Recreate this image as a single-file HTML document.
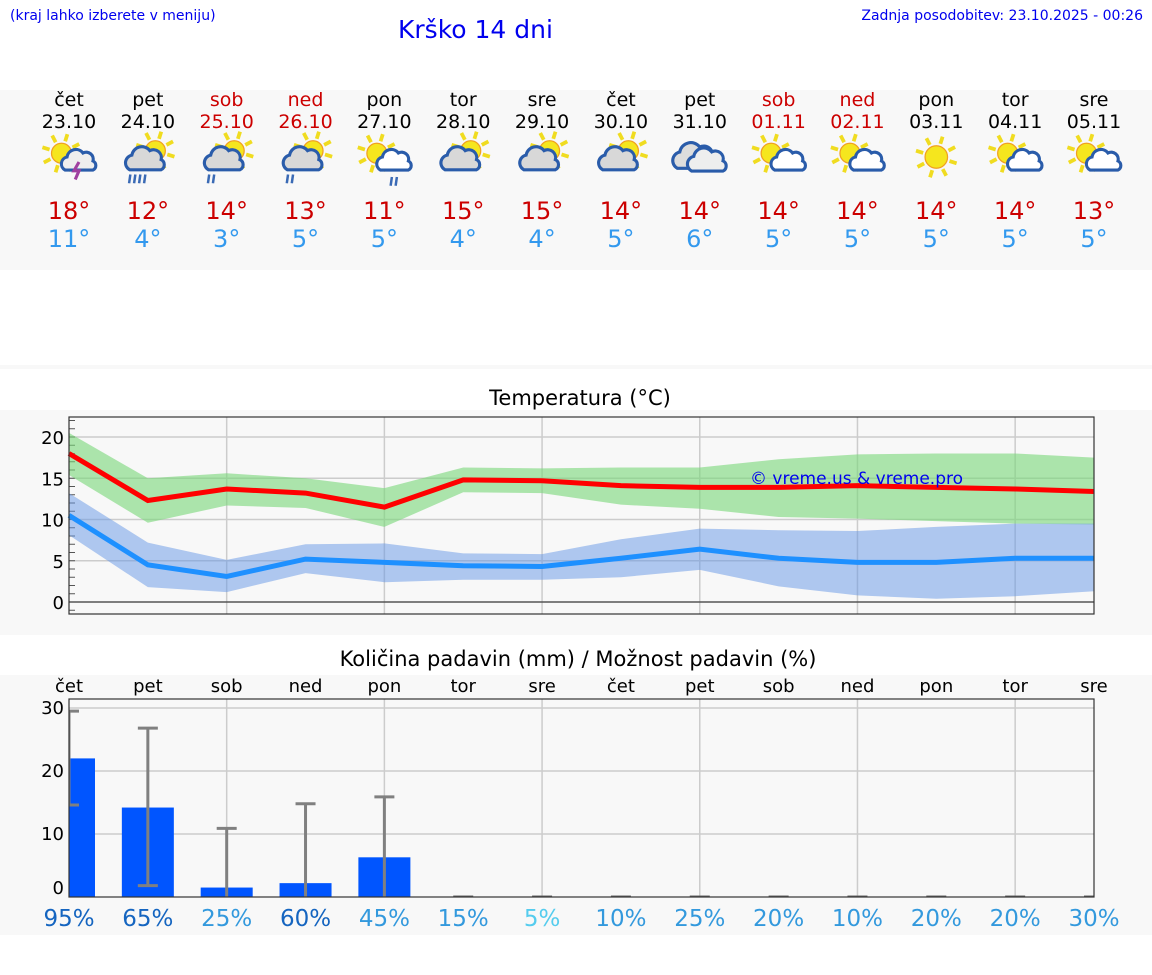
<!DOCTYPE html>
<html><head><meta charset="utf-8"><style>
body{margin:0;width:1152px;height:975px;background:#fff;font-family:"DejaVu Sans","Liberation Sans",sans-serif;position:relative;overflow:hidden}
.a{position:absolute}
</style></head><body>
<div class="a" style="left:10px;top:8px;font-size:14px;color:#0000ee">(kraj lahko izberete v meniju)</div>
<div class="a" style="left:398px;top:15px;font-size:25px;color:#0000ee">Krško 14 dni</div>
<div class="a" style="right:9px;top:8px;font-size:14px;color:#0000ee">Zadnja posodobitev: 23.10.2025 - 00:26</div>
<div class="a" style="left:0;top:90px;width:1152px;height:180px;background:#f8f8f8"></div>
<div class="a" style="left:0;top:365px;width:1152px;height:4px;background:#f8f8f8"></div>
<div class="a" style="left:0;top:410px;width:1152px;height:225px;background:#f8f8f8"></div>
<div class="a" style="left:0;top:675px;width:1152px;height:260px;background:#f8f8f8"></div>
<div class="a" style="left:0;width:1160px;top:386px;text-align:center;font-size:21px">Temperatura (°C)</div>
<div class="a" style="left:0;width:1156px;top:647px;text-align:center;font-size:21px">Količina padavin (mm) / Možnost padavin (%)</div>
<div id="days"></div>
<svg class="a" style="left:0;top:0" width="1152" height="975" id="svg"></svg>
<script>
const dayNames=["čet","pet","sob","ned","pon","tor","sre","čet","pet","sob","ned","pon","tor","sre"];
const dates=["23.10","24.10","25.10","26.10","27.10","28.10","29.10","30.10","31.10","01.11","02.11","03.11","04.11","05.11"];
const weekend=[0,0,1,1,0,0,0,0,0,1,1,0,0,0];
const icons=["storm","rain","rain2","rain2","rainc","pc","pc","pc","cloudy","ps","ps","sun","ps","ps"];
const tMax=[18,12,14,13,11,15,15,14,14,14,14,14,14,13];
const tMin=[11,4,3,5,5,4,4,5,6,5,5,5,5,5];
const maxLine=[18,12.3,13.7,13.2,11.5,14.8,14.7,14.1,13.9,13.9,14.1,13.9,13.7,13.4];
const minLine=[10.5,4.5,3.1,5.2,4.8,4.4,4.3,5.3,6.4,5.3,4.8,4.8,5.3,5.3];
const maxHi=[20.5,15,15.6,15,13.8,16.3,16.2,16.3,16.3,17.3,17.9,18,18,17.5];
const maxLo=[15.4,9.6,11.7,11.4,9.1,13.3,13.2,11.8,11.3,10.3,10.1,9.8,9.5,9.4];
const minHi=[13.2,7.2,5.1,7,7.1,5.9,5.8,7.6,8.9,8.7,8.6,9.1,9.5,9.5];
const minLo=[8.1,1.8,1.2,3.5,2.4,2.7,2.7,3,3.9,1.9,0.8,0.4,0.7,1.3];
const tempTicks=[0,5,10,15,20];
const precip=[22,14.2,1.5,2.2,6.3,0,0,0,0,0,0,0,0,0];
const errLo=[14.6,1.8,0,0,0,0,0,0,0,0,0,0,0,0];
const errHi=[29.5,26.8,10.9,14.8,15.9,0,0,0,0,0,0,0,0,0];
const chance=[95,65,25,60,45,15,5,10,25,20,10,20,20,30];
const precipTicks=[0,10,20,30];

const NS="http://www.w3.org/2000/svg";
const svg=document.getElementById('svg');
const X=i=>69+i*(1094-69)/13;
const TY=v=>602-v*8.25;
const PY=v=>897-v*6.3;
function el(t,a,p){const e=document.createElementNS(NS,t);for(const k in a)e.setAttribute(k,a[k]);(p||svg).appendChild(e);return e;}

const days=document.getElementById('days');
dayNames.forEach((d,i)=>{
 const c=document.createElement('div');c.className='a';
 
 
 c.style.cssText=`left:${X(i)-40}px;width:80px;top:89px;text-align:center;font-size:19px;line-height:22px;color:${weekend[i]?'#cc0000':'#000'}`;
 c.innerHTML=`${d}<br>${dates[i]}<div style="height:64px"></div><div style="font-size:24px;line-height:28px;color:#cc0000">${tMax[i]}°</div><div style="font-size:24px;line-height:28px;color:#3399ee">${tMin[i]}°</div>`;
 days.appendChild(c);
});
function sun(g,cx,cy,r){for(let k=0;k<8;k++){const a=k*Math.PI/4+0.3;el('line',{x1:cx+Math.cos(a)*(r+2),y1:cy+Math.sin(a)*(r+2),x2:cx+Math.cos(a)*(r+8),y2:cy+Math.sin(a)*(r+8),stroke:'#f0dc20','stroke-width':3},g);}el('circle',{cx,cy,r,fill:'#f5e61e',stroke:'#f0a020','stroke-width':1},g);}
function cloud(g,cx,cy,s,fill){el('path',{d:`M${cx-14*s},${cy+8*s} a${7*s} ${7*s} 0 0 1 ${2*s},${-13*s} a${9*s} ${9*s} 0 0 1 ${16*s},${-4*s} a${7*s} ${7*s} 0 0 1 ${10*s},${8*s} a${5*s} ${5*s} 0 0 1 0,${9*s} z`,fill,stroke:'#2a5caa','stroke-width':2.5},g);}
icons.forEach((t,i)=>{
 const cx=X(i),cy=157;
 const g=el('g',{transform:`translate(${cx},${cy}) scale(1.25) translate(${-cx},${-cy})`});
 if(t==='sun'){sun(g,cx,cy,9);return;}
 if(t==='cloudy'){cloud(g,cx-4,cy+1,1,'#ddd');cloud(g,cx+6,cy+4,0.9,'#eee');return;}
 if(t==='storm'||t==='rainc'||t==='ps'){sun(g,cx-6,cy-3,8);cloud(g,cx+8,cy+4,0.8,t==='storm'?'#eee':'#fff');
   if(t==='storm')el('path',{d:`M${cx+8},${cy+4} l-4,7 h4 l-3,7`,stroke:'#a040a0','stroke-width':2.5,fill:'none'},g);
   if(t==='rainc')for(let k=0;k<2;k++)el('line',{x1:cx+6+k*4,y1:cy+16,x2:cx+5+k*4,y2:cy+23,stroke:'#3a6ab5','stroke-width':2},g);
   return;}
 sun(g,cx+6,cy-5,8);cloud(g,cx-2,cy+3,0.9,'#d8d8d8');
 const n=t==='rain'?4:(t==='pc'?0:2);
 for(let k=0;k<n;k++)el('line',{x1:cx-14+k*4,y1:cy+14,x2:cx-15+k*4,y2:cy+21,stroke:'#3a6ab5','stroke-width':2},g);
});

const tg=el('g',{});
for(let i=2;i<14;i+=2)el('line',{x1:X(i),x2:X(i),y1:417,y2:614,stroke:'#ccc','stroke-width':1.5},tg);
tempTicks.forEach(v=>{el('line',{x1:69,x2:1094,y1:TY(v),y2:TY(v),stroke:v===0?'#555':'#ccc','stroke-width':1.5},tg);
 const t=el('text',{x:64,y:TY(v)+7,'text-anchor':'end','font-size':18,fill:'#000'},tg);t.textContent=v;});
for(let v=-1;v<=22;v++)el('line',{x1:69,x2:75,y1:TY(v),y2:TY(v),stroke:'#555'},tg);
function band(hi,lo,c,name){const pts=hi.map((v,i)=>X(i)+','+TY(v)).concat(lo.map((v,i)=>X(i)+','+TY(v)).reverse());const p=el('polygon',{points:pts.join(' '),fill:c},tg);}
band(maxHi,maxLo,'rgba(120,215,120,0.6)','max-temp-band');
band(minHi,minLo,'rgba(100,150,230,0.5)','min-temp-band');
function line(a,c,name){const p=el('polyline',{points:a.map((v,i)=>X(i)+','+TY(v)).join(' '),fill:'none',stroke:c,'stroke-width':5},tg);}
line(maxLine,'#ff0000','max-temp-line');line(minLine,'#1e90ff','min-temp-line');
el('rect',{x:69,y:417,width:1025,height:197,fill:'none',stroke:'#333','stroke-width':1.2},tg);
const wm=el('text',{x:750,y:484,'font-size':17,fill:'#0000ee'},tg);wm.textContent='© vreme.us & vreme.pro';


const pg=el('g',{});
el('clipPath',{id:'pc'},pg);el('rect',{x:69,y:699,width:1025,height:198},document.getElementById('pc'));
for(let i=2;i<14;i+=2)el('line',{x1:X(i),x2:X(i),y1:699,y2:897,stroke:'#ccc','stroke-width':1.5},pg);
precipTicks.forEach(v=>{if(v)el('line',{x1:69,x2:1094,y1:PY(v),y2:PY(v),stroke:'#ccc','stroke-width':1.5},pg);
 const t=el('text',{x:64,y:PY(v)+(v?6:-3),'text-anchor':'end','font-size':18,fill:'#000'},pg);t.textContent=v;});
dayNames.forEach((d,i)=>{const t=el('text',{x:X(i),y:692,'text-anchor':'middle','font-size':18,fill:'#000'},pg);t.textContent=d;});
const bg=el('g',{'clip-path':'url(#pc)'},pg);
precip.forEach((v,i)=>{if(v>0){const r=el('rect',{x:X(i)-26,y:PY(v),width:52,height:PY(0)-PY(v),fill:'#0055ff'},bg);}
 const lo=errLo[i],hi=errHi[i];
 el('line',{x1:X(i),x2:X(i),y1:PY(lo),y2:PY(hi),stroke:'#808080','stroke-width':3},bg);
 el('line',{x1:X(i)-10,x2:X(i)+10,y1:PY(hi),y2:PY(hi),stroke:i>4?'#666':'#808080','stroke-width':3},bg);
 if(lo>0)el('line',{x1:X(i)-10,x2:X(i)+10,y1:PY(lo),y2:PY(lo),stroke:'#808080','stroke-width':3},bg);
});
el('rect',{x:69,y:699,width:1025,height:198,fill:'none',stroke:'#333','stroke-width':1.2},pg);
chance.forEach((c,i)=>{const col=c>=60?'#1565c0':(c>=50?'#1a6fc0':(c<=5?'#55ccee':'#3399dd'));
 const t=el('text',{x:X(i),y:926,'text-anchor':'middle','font-size':23,fill:col},pg);t.textContent=c+'%';
 });
</script>
</body></html>
